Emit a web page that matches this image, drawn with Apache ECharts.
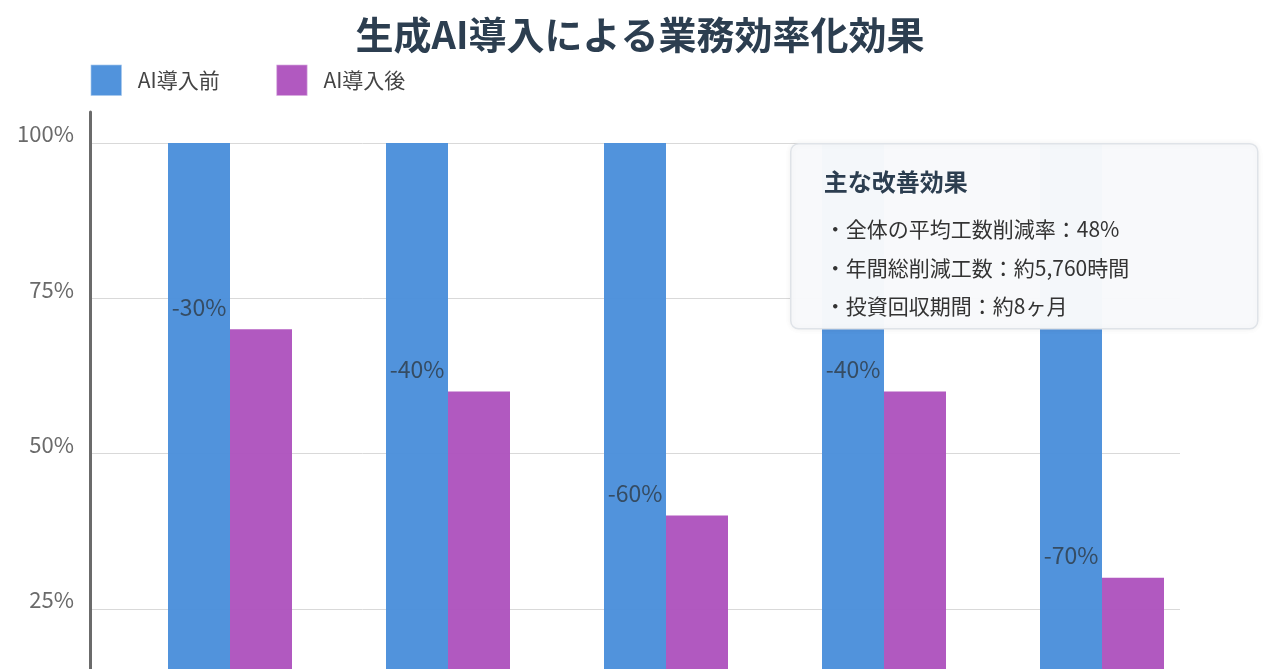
<!DOCTYPE html>
<html>
<head>
<meta charset="utf-8">
<script src="https://cdn.jsdelivr.net/npm/echarts@6/dist/echarts.min.js"></script>
<style>
html,body{margin:0;padding:0;background:#fff;overflow:hidden;}
#chart{width:1280px;height:820px;}
</style>
</head>
<body>
<div id="chart"></div>
<script>
const categories = ['議事録作成', '資料作成', 'データ分析', '問い合わせ対応', 'コード作成'];
const beforeValues = [100, 100, 100, 100, 100];
const afterValues = [70, 60, 40, 60, 30];
const reductionLabels = ['-30%', '-40%', '-60%', '-40%', '-70%'];
const yTicks = [0, 25, 50, 75, 100];
const titleText = '生成AI導入による業務効率化効果';
const seriesNames = ['AI導入前', 'AI導入後'];
const boxTitle = '主な改善効果';
const boxLines = ['・全体の平均工数削減率：48%', '・年間総削減工数：約5,760時間', '・投資回収期間：約8ヶ月'];

const FONT = '"Noto Sans CJK JP", "Noto Sans", sans-serif';
const chart = echarts.init(document.getElementById('chart'));

const boxText = (text, x, y, font, fill) => ({
  type: 'text', x, y, z: 101,
  style: { text, font: font + ' ' + FONT, fill, textVerticalAlign: 'middle' }
});

const option = {
  backgroundColor: '#ffffff',
  animation: false,
  textStyle: { fontFamily: FONT },
  title: {
    text: titleText,
    left: 'center',
    top: 11,
    textStyle: { fontFamily: FONT, fontSize: 38, fontWeight: 'bold', color: '#2c3e50' }
  },
  legend: {
    data: seriesNames,
    left: 90,
    top: 64,
    padding: 0,
    icon: 'rect',
    itemWidth: 31,
    itemHeight: 31,
    itemGap: 56,
    itemStyle: { borderWidth: 1.5, borderColor: 'rgba(255,255,255,0.35)' },
    textStyle: { fontFamily: FONT, fontSize: 21, color: '#444', padding: [0, 0, 0, 11] }
  },
  grid: { left: 90, right: 100, top: 112, height: 652, containLabel: false },
  xAxis: {
    type: 'category',
    data: categories,
    axisLine: { show: false },
    axisTick: { show: false },
    axisLabel: { show: false }
  },
  yAxis: {
    type: 'value',
    min: yTicks[0],
    max: 105,
    interval: 25,
    axisLine: { show: true, lineStyle: { color: '#6b6b6b', width: 3 } },
    axisTick: { show: false },
    axisLabel: {
      showMaxLabel: false,
      margin: 16,
      fontFamily: FONT,
      fontSize: 22,
      lineHeight: 18,
      color: '#6a6a6a',
      verticalAlign: 'bottom',
      formatter: v => yTicks.includes(v) ? v + '%' : ''
    },
    splitLine: { show: true, showMaxLine: false, lineStyle: { color: '#d9d9d9', width: 1 } }
  },
  series: [
    {
      name: '',
      type: 'bar',
      barWidth: 62,
      barGap: '0%',
      data: categories.map(() => null),
      silent: true
    },
    {
      name: seriesNames[0],
      type: 'bar',
      barWidth: 62,
      barGap: '0%',
      data: beforeValues,
      itemStyle: { color: '#4a8fdb', opacity: 0.96 }
    },
    {
      name: seriesNames[1],
      type: 'bar',
      barWidth: 62,
      barGap: '0%',
      data: afterValues,
      itemStyle: { color: '#ae52bd', opacity: 0.96 },
      label: {
        show: true,
        position: 'top',
        offset: [-62, -6],
        fontFamily: FONT,
        fontSize: 23,
        color: '#34495e',
        formatter: p => reductionLabels[p.dataIndex]
      }
    }
  ],
  graphic: [
    {
      type: 'group',
      left: 790,
      top: 143,
      z: 100,
      children: [
        {
          type: 'rect', z: 100,
          shape: { x: 0, y: 0, width: 467, height: 185, r: 8 },
          style: { fill: 'rgba(248,249,251,0.98)', stroke: '#dfe3e8', lineWidth: 1.5,
                   shadowBlur: 6, shadowColor: 'rgba(0,0,0,0.06)' }
        },
        boxText(boxTitle, 33, 38, 'bold 24px', '#2c3e50'),
        boxText(boxLines[0], 34, 85, '21px', '#333'),
        boxText(boxLines[1], 34, 124, '21px', '#333'),
        boxText(boxLines[2], 34, 162, '21px', '#333')
      ]
    }
  ]
};
chart.setOption(option);
</script>
</body>
</html>
